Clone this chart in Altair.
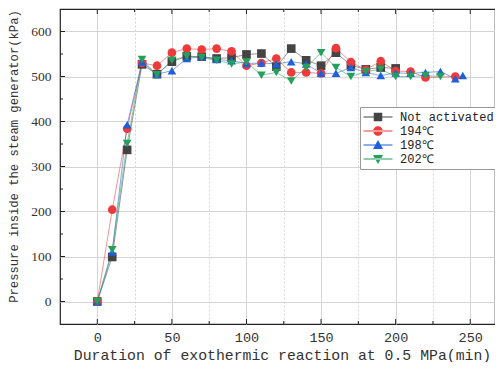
import altair as alt
import pandas as pd

# ---- data ----
series_names = ["Not activated", "194℃", "198℃", "202℃"]

t_not = [0, 10, 20, 30, 40, 50, 60, 70, 80, 90, 100, 110, 120, 130, 140, 150, 160, 170, 180, 190, 200]
p_not = [0, 99, 337, 527, 505, 533, 545, 544, 540, 542, 549, 551, 522, 562, 536, 524, 553, 525, 516, 520, 518]

t_194 = [0, 10, 20, 30, 40, 50, 60, 70, 80, 90, 100, 110, 120, 130, 140, 150, 160, 170, 180, 190, 200, 210, 220, 240]
p_194 = [0, 204, 384, 530, 524, 553, 562, 560, 562, 556, 524, 530, 540, 509, 509, 507, 563, 532, 515, 534, 512, 511, 498, 500]

t_198 = [0, 10, 20, 30, 40, 50, 60, 70, 80, 90, 100, 110, 120, 130, 140, 150, 160, 170, 180, 190, 200, 210, 220, 230, 240, 245]
p_198 = [0, 110, 393, 532, 505, 513, 540, 544, 538, 535, 529, 530, 528, 533, 528, 507, 507, 520, 509, 502, 508, 507, 509, 511, 495, 502]

t_202 = [0, 10, 20, 30, 40, 50, 60, 70, 80, 90, 100, 110, 120, 130, 140, 150, 160, 170, 180, 190, 200, 210, 220, 230]
p_202 = [0, 115, 351, 538, 504, 536, 545, 542, 536, 528, 532, 503, 509, 490, 520, 553, 520, 500, 511, 516, 500, 500, 502, 500]

x_major = [0, 50, 100, 150, 200, 250]
x_minor = [25, 75, 125, 175, 225]
y_major = [0, 100, 200, 300, 400, 500, 600]
y_minor = [50, 150, 250, 350, 450, 550]

colors = ["#444444", "#ee3a3a", "#1f5fd8", "#23a05c"]
shapes = ["square", "circle", "triangle-up", "triangle-down"]
legend_paths = [
    "M-2.9,-0.1H2.9V0.1H-2.9Z M-0.85,-0.85H0.85V0.85H-0.85Z",
    "M-2.9,-0.1H2.9V0.1H-2.9Z M-0.95,0A0.95,0.95,0,1,0,0.95,0A0.95,0.95,0,1,0,-0.95,0Z",
    "M-2.9,-0.1H2.9V0.1H-2.9Z M0,-1L1,0.8H-1Z",
    "M-2.9,-0.1H2.9V0.1H-2.9Z M0,1L1,-0.8H-1Z",
]

rows = []
for name, ts, ps in [(series_names[0], t_not, p_not), (series_names[1], t_194, p_194),
                     (series_names[2], t_198, p_198), (series_names[3], t_202, p_202)]:
    for t, p in zip(ts, ps):
        rows.append({"series": name, "t": t, "p": p, "order": series_names.index(name)})
df = pd.DataFrame(rows)

W, H = 435, 315
XDOM = [-25, 266.6]
YDOM = [-50, 650]

minor_dash = {"condition": {"test": "datum.value % 50 !== 0", "value": [2, 2]}, "value": []}
ydash = {"condition": {"test": "datum.value % 100 !== 0", "value": [2, 2]}, "value": []}

x_enc = alt.X("t:Q", scale=alt.Scale(domain=XDOM, nice=False, zero=False),
              axis=alt.Axis(values=x_major + x_minor, labelExpr="datum.value % 50 === 0 ? datum.label : ''",
                            grid=True, gridDash=minor_dash, gridColor="#d4d4d4", ticks=False,
                            domain=False, labelFont="Liberation Mono", labelFontSize=13.5,
                            labelColor="#333", labelPadding=6,
                            title="Duration of exothermic reaction at 0.5 MPa(min)",
                            titleFont="Liberation Mono", titleFontSize=14.8, titleFontWeight="normal",
                            titleColor="#333", titleX=222, titleY=31, titleBaseline="middle"))
y_enc = alt.Y("p:Q", scale=alt.Scale(domain=YDOM, nice=False, zero=False),
              axis=alt.Axis(values=y_major + y_minor, labelExpr="datum.value % 100 === 0 ? datum.label : ''",
                            grid=True, gridDash=ydash, gridColor="#d4d4d4", ticks=False,
                            domain=False, labelFont="Liberation Serif", labelFontSize=13.5,
                            labelColor="#333", labelPadding=9,
                            title="Pressure inside the steam generator(kPa)",
                            titleFont="Liberation Mono", titleFontSize=12.2, titleFontWeight="normal",
                            titleColor="#333", titleX=-47, titleY=147, titleBaseline="middle"))

color_scale = alt.Scale(domain=series_names, range=colors)

lines = alt.Chart(df).mark_line(strokeWidth=1, opacity=0.55).encode(
    x=x_enc, y=y_enc,
    color=alt.Color("series:N", scale=color_scale, legend=None),
    detail="series:N",
)

points = alt.Chart(df).mark_point(filled=True, opacity=1, size=75).encode(
    x="t:Q", y="p:Q",
    color=alt.Color("series:N", scale=color_scale, legend=None),
    shape=alt.Shape("series:N", scale=alt.Scale(domain=series_names, range=shapes), legend=None),
    order=alt.Order("order:Q"),
)

legend_layer = alt.Chart(df).transform_filter("false").mark_point(filled=True, opacity=1).encode(
    x="t:Q", y="p:Q",
    color=alt.Color("series:N", scale=alt.Scale(domain=series_names, range=colors),
                    legend=alt.Legend(title=None)),
    shape=alt.Shape("series:N", scale=alt.Scale(domain=series_names, range=legend_paths),
                    legend=alt.Legend(title=None)),
)

# inward axis ticks
tick_rows_x = pd.DataFrame({"v": x_major + x_minor, "major": [1] * len(x_major) + [0] * len(x_minor)})
tick_rows_y = pd.DataFrame({"v": y_major + y_minor, "major": [1] * len(y_major) + [0] * len(y_minor)})


def xticks(major, bottom):
    n = 5 if major else 3
    y0, y1 = (H, H - n) if bottom else (0, n)
    return alt.Chart(tick_rows_x).transform_filter(f"datum.major == {1 if major else 0}").mark_rule(
        color="#222", strokeWidth=1).encode(x="v:Q", y=alt.value(y0), y2=alt.value(y1))


def yticks(major):
    n = 5 if major else 3
    return alt.Chart(tick_rows_y).transform_filter(f"datum.major == {1 if major else 0}").mark_rule(
        color="#222", strokeWidth=1).encode(y="v:Q", x=alt.value(0), x2=alt.value(n))


chart = alt.layer(
    lines, points, legend_layer,
    xticks(True, True), xticks(False, True), xticks(True, False), xticks(False, False),
    yticks(True), yticks(False),
).resolve_scale(color="independent", shape="independent").properties(
    width=W, height=H,
    autosize=alt.AutoSizeParams(type="none"),
    padding={"left": 52, "top": 1, "right": 0, "bottom": 38},
).configure_view(stroke="#222", strokeWidth=1.2).configure_legend(
    orient="none", legendX=300, legendY=98,
    fillColor="white", strokeColor="#999", padding=4, symbolOffset=8,
    labelFont="Liberation Mono", labelFontSize=12, labelColor="#222",
    symbolSize=100, labelOffset=16, rowPadding=2, symbolStrokeWidth=0, cornerRadius=0,
)

chart.save("out.html", embed_options={"renderer": "svg", "actions": False})
